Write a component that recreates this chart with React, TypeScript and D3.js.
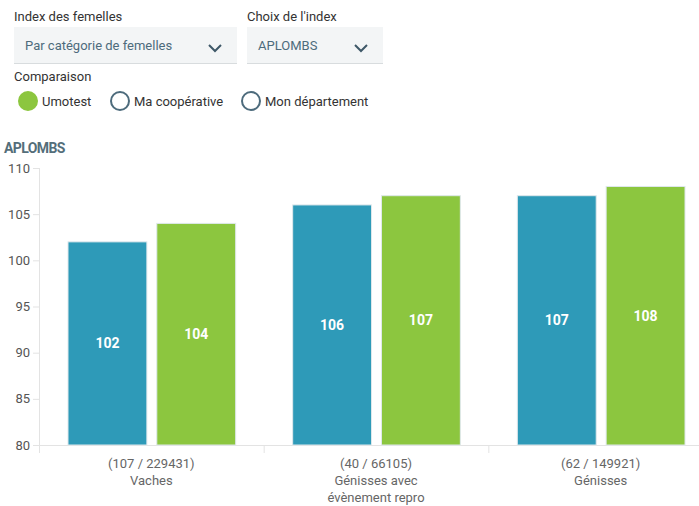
import React, { useEffect, useRef } from 'react';
import * as d3 from 'd3';

const categories = ['Vaches', 'Génisses avec\névènement repro', 'Génisses'];
const counts = ['(107 / 229431)', '(40 / 66105)', '(62 / 149921)'];
const seriesNames = ['Index', 'Umotest'];
const blueValues = [102, 106, 107];
const greenValues = [104, 107, 108];
const yTicks = [80, 85, 90, 95, 100, 105, 110];
const radios = ['Umotest', 'Ma coopérative', 'Mon département'];

const W = 699;
const H = 506;
const FONT = 'Roboto, "Noto Sans", sans-serif';
const BLUE = '#2e9ab8';
const GREEN = '#8cc63f';

const App = () => {
    const ref = useRef<SVGSVGElement>(null);

    useEffect(() => {
        const svg = d3.select(ref.current);
        svg.selectAll('*').remove();
        svg.attr('width', W).attr('height', H).style('font-family', FONT);

        // form header
        const form = svg.append('g');
        form.append('text').attr('x', 14).attr('y', 21).attr('font-size', 13).attr('fill', '#333').text('Index des femelles');
        form.append('text').attr('x', 247).attr('y', 21).attr('font-size', 13).attr('fill', '#333').text("Choix de l'index");

        const selects = [
            { x: 14, w: 223, label: 'Par catégorie de femelles' },
            { x: 247, w: 136, label: 'APLOMBS' }
        ];
        selects.forEach(s => {
            form.append('rect').attr('x', s.x).attr('y', 27).attr('width', s.w).attr('height', 36).attr('fill', '#f3f5f6');
            form.append('line').attr('x1', s.x).attr('x2', s.x + s.w).attr('y1', 63.5).attr('y2', 63.5).attr('stroke', '#d8dcde');
            form.append('text').attr('x', s.x + 11).attr('y', 50).attr('font-size', 13).attr('fill', '#4d6b7c').text(s.label);
            const cx = s.x + s.w - 22;
            form.append('path')
                .attr('d', `M${cx - 6},${45} L${cx},${51} L${cx + 6},${45}`)
                .attr('fill', 'none').attr('stroke', '#3e5868').attr('stroke-width', 2);
        });

        form.append('text').attr('x', 14).attr('y', 81).attr('font-size', 13).attr('fill', '#333').text('Comparaison');
        const radioX = [28, 120, 251];
        radios.forEach((r, i) => {
            form.append('circle').attr('cx', radioX[i]).attr('cy', 101).attr('r', 9)
                .attr('fill', i === 0 ? GREEN : 'white')
                .attr('stroke', i === 0 ? GREEN : '#4d6b7c').attr('stroke-width', 2);
            form.append('text').attr('x', radioX[i] + 14).attr('y', 106).attr('font-size', 13).attr('fill', '#333').text(r);
        });

        // title
        svg.append('text').attr('x', 4).attr('y', 153).attr('font-size', 14).attr('font-weight', 'bold')
            .attr('letter-spacing', -0.6).attr('fill', '#546e7a').text('APLOMBS');

        // chart
        const x0 = 39, x1 = 713, yTop = 168, yBot = 445;
        const xScale = d3.scaleBand<number>().domain(d3.range(categories.length)).range([x0, x1]);
        const xInner = d3.scaleBand<string>().domain(seriesNames).range([29, xScale.bandwidth() - 28]).paddingInner(0.112);
        const yScale = d3.scaleLinear().domain([80, 110]).range([yBot, yTop]);

        const chart = svg.append('g');

        // y axis
        chart.append('line').attr('x1', x0 + 0.5).attr('x2', x0 + 0.5).attr('y1', yTop).attr('y2', yBot + 8).attr('stroke', '#e3e3e3');
        chart.append('line').attr('x1', x0).attr('x2', W).attr('y1', yBot + 0.5).attr('y2', yBot + 0.5).attr('stroke', '#e3e3e3');
        yTicks.forEach(t => {
            chart.append('line').attr('x1', x0 - 6).attr('x2', x0).attr('y1', yScale(t) + 0.5).attr('y2', yScale(t) + 0.5).attr('stroke', '#e3e3e3');
            chart.append('text').attr('x', x0 - 9).attr('y', yScale(t) + 4.5).attr('text-anchor', 'end')
                .attr('font-size', 13).attr('fill', '#555').text(t);
        });
        // category separators
        d3.range(1, categories.length).forEach(i => {
            const x = xScale(i)! + 0.5;
            chart.append('line').attr('x1', x).attr('x2', x).attr('y1', yBot).attr('y2', yBot + 8).attr('stroke', '#e3e3e3');
        });

        // bars
        const barData = categories.flatMap((c, i) => [
            { i, s: seriesNames[0], v: blueValues[i], color: BLUE },
            { i, s: seriesNames[1], v: greenValues[i], color: GREEN }
        ]);
        const bars = chart.selectAll('.bar').data(barData).enter().append('g');
        bars.append('rect')
            .attr('x', d => xScale(d.i)! + xInner(d.s)!)
            .attr('y', d => yScale(d.v))
            .attr('width', xInner.bandwidth())
            .attr('height', d => yBot - yScale(d.v))
            .attr('fill', d => d.color)
            .attr('stroke', '#dfe8ec').attr('stroke-width', 1);
        bars.append('text')
            .attr('x', d => xScale(d.i)! + xInner(d.s)! + xInner.bandwidth() / 2)
            .attr('y', d => (yScale(d.v) + yBot) / 2 + 5)
            .attr('text-anchor', 'middle').attr('font-size', 14).attr('font-weight', 'bold')
            .attr('fill', 'white').text(d => d.v);

        // x labels
        categories.forEach((c, i) => {
            const cx = xScale(i)! + xScale.bandwidth() / 2;
            const lines = [counts[i], ...c.split('\n')];
            lines.forEach((l, j) => {
                chart.append('text').attr('x', cx).attr('y', 468 + j * 17).attr('text-anchor', 'middle')
                    .attr('font-size', 13).attr('fill', '#666').text(l);
            });
        });
    }, []);

    return <svg ref={ref} style={{ position: 'absolute', left: 0, top: 0 }}></svg>;
};

export default App;
